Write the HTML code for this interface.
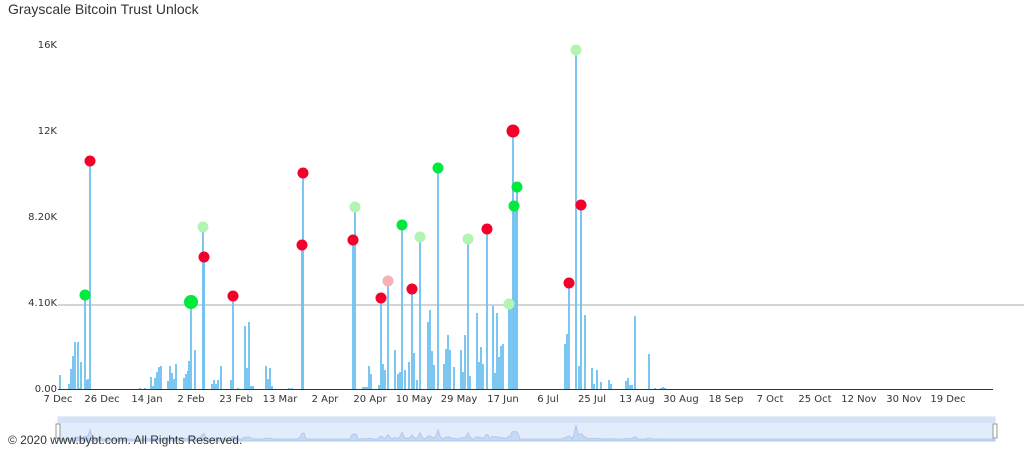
<!DOCTYPE html>
<html><head><meta charset="utf-8"><style>
body{margin:0;background:#fff;width:1024px;height:449px;overflow:hidden;font-family:"Liberation Sans",sans-serif}
</style></head><body>
<svg width="1024" height="449" viewBox="0 0 1024 449" xmlns="http://www.w3.org/2000/svg" font-family="DejaVu Sans, Liberation Sans, sans-serif">
<text x="8" y="14" font-size="14" fill="#333" font-family="Liberation Sans, sans-serif">Grayscale Bitcoin Trust Unlock</text>
<g font-size="10" fill="#333" text-anchor="end">
<text x="57" y="48">16K</text>
<text x="57" y="134">12K</text>
<text x="57" y="220">8.20K</text>
<text x="57" y="306">4.10K</text>
<text x="57" y="392">0.00</text>
</g>
<line x1="58" y1="305" x2="1024" y2="305" stroke="#bbb" stroke-width="1.2"/>
<g id="bars" fill="#6ec1f0" stroke="none"></g>
<line x1="58" y1="389.5" x2="993" y2="389.5" stroke="#333" stroke-width="1"/>
<g font-size="10" fill="#333" text-anchor="middle" id="xl"></g>
<g id="dots"></g>
<rect x="58" y="417" width="937" height="24" fill="#e2ecfb" stroke="#cfdcf0"/>
<rect x="58" y="417" width="937" height="6" fill="#d5e3f8"/>
<path id="nav" fill="#c6d9f4" stroke="#a9c4ec" stroke-width="0.8"/>
<rect x="56" y="424" width="4" height="14" fill="#fff" stroke="#999"/>
<rect x="993" y="424" width="4" height="14" fill="#fff" stroke="#999"/>
<text x="8" y="444" font-size="12" fill="#333" font-family="Liberation Sans, sans-serif">© 2020 www.bybt.com. All Rights Reserved.</text>
</svg>
<script>
var ns="http://www.w3.org/2000/svg";
var labels=[[58,"7 Dec"],[102,"26 Dec"],[147,"14 Jan"],[191,"2 Feb"],[236,"23 Feb"],[280,"13 Mar"],[325,"2 Apr"],[370,"20 Apr"],[414,"10 May"],[459,"29 May"],[503,"17 Jun"],[548,"6 Jul"],[592,"25 Jul"],[637,"13 Aug"],[681,"30 Aug"],[726,"18 Sep"],[770,"7 Oct"],[815,"25 Oct"],[859,"12 Nov"],[904,"30 Nov"],[948,"19 Dec"]];
var xl=document.getElementById("xl");
labels.forEach(function(l){var t=document.createElementNS(ns,"text");t.setAttribute("x",l[0]);t.setAttribute("y",402);t.textContent=l[1];xl.appendChild(t);});
var bars=[[60,375],[69,384],[71,369],[73,356],[75,342],[78,342],[79,388],[81,362],[85,295],[87,380],[88,379],[90,161],[140,388],[145,388],[151,377],[153,386],[155,378],[157,372],[159,367],[161,366],[168,381],[170,366],[172,373],[174,379],[176,364],[184,378],[186,374],[188,371],[189,361],[191,302],[195,350],[203,227],[204,257],[212,384],[214,380],[216,384],[218,380],[221,366],[231,380],[233,296],[238,388],[245,326],[247,368],[249,322],[251,386],[253,386],[266,366],[268,379],[270,368],[272,386],[289,388],[292,388],[302,245],[303,173],[353,240],[355,207],[363,387],[365,387],[367,387],[369,366],[371,374],[379,385],[381,298],[383,364],[385,370],[388,281],[395,350],[398,374],[400,372],[402,225],[405,370],[409,362],[412,289],[414,353],[417,380],[420,237],[428,322],[430,310],[432,351],[434,365],[438,168],[444,364],[446,349],[448,335],[450,350],[454,367],[461,350],[463,372],[465,335],[468,239],[470,376],[477,313],[479,362],[481,347],[483,364],[487,229],[493,306],[495,373],[497,313],[499,357],[501,346],[503,344],[509,304],[511,303],[513,131],[514,206],[516,206],[517,187],[565,344],[567,334],[569,283],[576,50],[579,366],[581,205],[585,315],[592,368],[594,384],[597,370],[601,382],[609,380],[611,384],[626,381],[628,378],[630,385],[632,385],[635,316],[649,354],[655,388],[661,388],[663,387],[665,388]];
var bg=document.getElementById("bars");
bars.forEach(function(b){var r=document.createElementNS(ns,"rect");r.setAttribute("x",b[0]-0.9);r.setAttribute("y",b[1]);r.setAttribute("width",1.8);r.setAttribute("height",389-b[1]);bg.appendChild(r);});
var dots=[[85,295,"#00e93c"],[90,161,"#f5002a"],[191,302,"#00e93c",7],[203,227,"#b1f5b1"],[204,257,"#f5002a"],[233,296,"#f5002a"],[303,173,"#f5002a"],[302,245,"#f5002a"],[353,240,"#f5002a"],[355,207,"#b1f5b1"],[381,298,"#f5002a"],[388,281,"#f8b0b5"],[402,225,"#00e93c"],[412,289,"#f5002a"],[420,237,"#b1f5b1"],[438,168,"#00e93c"],[468,239,"#b1f5b1"],[487,229,"#f5002a"],[509,304,"#b1f5b1"],[513,131,"#f5002a",6.5],[514,206,"#00e93c"],[517,187,"#00e93c"],[569,283,"#f5002a"],[576,50,"#b1f5b1"],[581,205,"#f5002a"]];
var dg=document.getElementById("dots");
dots.forEach(function(d){var c=document.createElementNS(ns,"circle");c.setAttribute("cx",d[0]);c.setAttribute("cy",d[1]);c.setAttribute("r",d[3]||5.5);c.setAttribute("fill",d[2]);dg.appendChild(c);});
var p="M58,441";
for(var x=58;x<=995;x+=2){var v=0;bars.forEach(function(b){var dx=Math.abs(b[0]-x);if(dx<3){v=Math.max(v,(389-b[1])/340*14*(1-dx/3));}});p+=" L"+x+","+(439-v).toFixed(1);}
p+=" L995,441 Z";document.getElementById("nav").setAttribute("d",p);
</script>
</body></html>
